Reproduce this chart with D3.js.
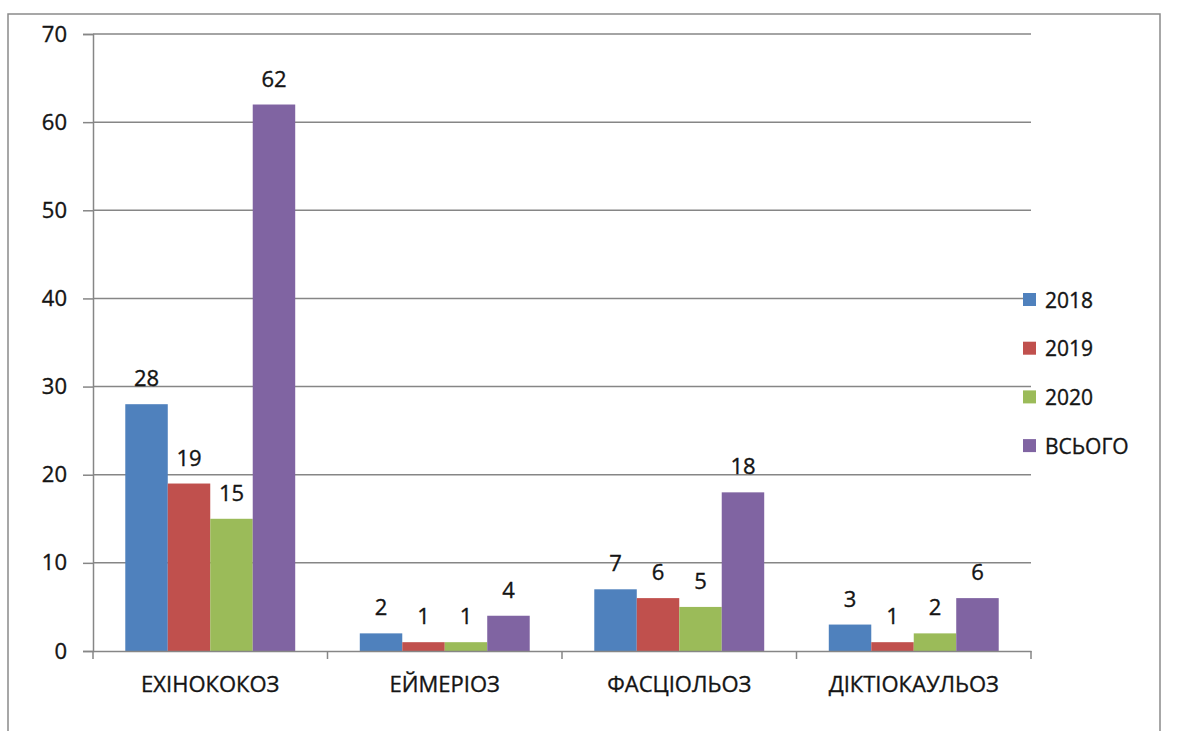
<!DOCTYPE html>
<html>
<head>
<meta charset="utf-8">
<script src="https://cdn.jsdelivr.net/npm/d3@7/dist/d3.min.js"></script>
<style>
  html, body { margin: 0; padding: 0; background: #fff; }
  svg { display: block; }
  text { font-family: "Open Sans", Lato, sans-serif; fill: #141414; stroke: #141414; stroke-width: 0.35px; }
</style>
</head>
<body>
<svg id="chart" width="1193" height="731"></svg>
<script>
// Disease categories and yearly case counts
const categories = ["ЕХІНОКОКОЗ", "ЕЙМЕРІОЗ", "ФАСЦІОЛЬОЗ", "ДІКТІОКАУЛЬОЗ"];
const seriesNames = ["2018", "2019", "2020", "ВСЬОГО"];
const values2018 = [28, 2, 7, 3];
const values2019 = [19, 1, 6, 1];
const values2020 = [15, 1, 5, 2];
const valuesTotal = [62, 4, 18, 6];
const yTicks = [0, 10, 20, 30, 40, 50, 60, 70];
const colors = ["#4F81BD", "#C0504D", "#9BBB59", "#8064A2"];

const seriesValues = [values2018, values2019, values2020, valuesTotal];
const rows = categories.map((c, i) => ({
  category: c,
  values: seriesNames.map((s, j) => ({ series: s, value: seriesValues[j][i] }))
}));

const FONT = "'Open Sans', Lato, sans-serif";
const FS = 22;
const svg = d3.select("#chart");
const plot = { left: 93, right: 1031, top: 34, bottom: 651 };

// Outer chart frame
svg.append("rect")
  .attr("x", 8).attr("y", 14)
  .attr("width", 1152).attr("height", 740)
  .attr("fill", "#fff")
  .attr("stroke", "#8a8a8a").attr("stroke-width", 1.5);

const x0 = d3.scaleBand().domain(categories).range([plot.left, plot.right]).paddingInner(0).paddingOuter(0);
const x1 = d3.scaleBand().domain(seriesNames).range([0, x0.bandwidth()]).paddingOuter(0.76).paddingInner(0);
const y = d3.scaleLinear().domain([0, 70]).range([plot.bottom, plot.top]);

// Value axis with left tick marks
const yAxis = d3.axisLeft(y).tickValues(yTicks).tickSize(10).tickPadding(16);
const gy = svg.append("g").attr("transform", `translate(${plot.left},0)`).call(yAxis);
gy.select(".domain").attr("stroke", "#868686").attr("stroke-width", 1.5);
gy.selectAll(".tick line").attr("stroke", "#868686").attr("stroke-width", 1.5);
gy.selectAll(".tick text").attr("font-size", FS).attr("fill", "#141414").attr("font-family", FONT);

// Horizontal gridlines
svg.append("g").selectAll("line")
  .data(yTicks.filter(t => t > 0))
  .join("line")
  .attr("x1", plot.left).attr("x2", plot.right)
  .attr("y1", d => y(d)).attr("y2", d => y(d))
  .attr("stroke", "#868686").attr("stroke-width", 1.5);

// Bars
const groups = svg.append("g").selectAll("g")
  .data(rows)
  .join("g")
  .attr("transform", d => `translate(${x0(d.category)},0)`);

groups.selectAll("rect")
  .data(d => d.values)
  .join("rect")
  .attr("x", d => x1(d.series))
  .attr("y", d => y(d.value))
  .attr("width", x1.bandwidth())
  .attr("height", d => y(0) - y(d.value))
  .attr("fill", (d, i) => colors[i]);

// Value labels
groups.selectAll("text.val")
  .data(d => d.values)
  .join("text")
  .attr("class", "val")
  .attr("x", d => x1(d.series) + x1.bandwidth() / 2)
  .attr("y", d => y(d.value) - 18)
  .attr("text-anchor", "middle")
  .attr("font-size", FS)
  .text(d => d.value);

// Category axis
const xAxis = d3.axisBottom(x0).tickSize(0).tickPadding(25);
const gx = svg.append("g").attr("transform", `translate(0,${plot.bottom})`).call(xAxis);
gx.select(".domain").attr("stroke", "#868686").attr("stroke-width", 1.5);
gx.selectAll(".tick text").attr("font-size", FS).attr("fill", "#141414").attr("font-family", FONT);

// Category separators below the axis
const seps = categories.map(c => x0(c)).concat([plot.right]);
svg.append("g").selectAll("line")
  .data(seps)
  .join("line")
  .attr("x1", d => d).attr("x2", d => d)
  .attr("y1", plot.bottom).attr("y2", plot.bottom + 8)
  .attr("stroke", "#868686").attr("stroke-width", 1.5);

// Legend
const legend = svg.append("g").selectAll("g")
  .data(seriesNames)
  .join("g")
  .attr("transform", (d, i) => `translate(1023,${300 + i * 48.7})`);
legend.append("rect")
  .attr("x", 0).attr("y", -7).attr("width", 13).attr("height", 13)
  .attr("fill", (d, i) => colors[i]);
legend.append("text")
  .attr("x", 22).attr("y", 0).attr("dy", "0.36em")
  .attr("font-size", FS - 1)
  .text(d => d);
</script>
</body>
</html>
